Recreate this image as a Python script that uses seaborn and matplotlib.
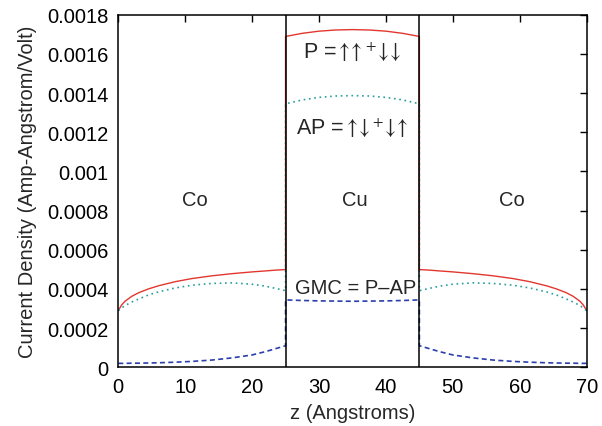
import matplotlib
matplotlib.use("Agg")
import matplotlib.pyplot as plt
import seaborn as sns

# Sample positions along z (Angstroms) for each layer
z_co_left = [0, 0.5, 1, 2, 3, 4.5, 6, 8.5, 11, 14, 17, 20, 22, 23.5, 25]
z_cu = [25, 27.5, 30, 32.5, 35, 37.5, 40, 42.5, 45]
z_co_right = [45, 46.5, 48, 50, 53, 56, 59, 61.5, 64, 65.5, 67, 68, 69, 69.5, 70]

# Parallel configuration current density
p_co_left = [0.000290, 0.000318, 0.000337, 0.000362, 0.000380, 0.000400, 0.000416, 0.000437,
             0.000453, 0.000467, 0.000478, 0.000487, 0.000492, 0.000496, 0.000499]
p_cu = [0.001689, 0.001705, 0.001716, 0.001722, 0.001724, 0.001722, 0.001716, 0.001705, 0.001689]
p_co_right = [0.000499, 0.000496, 0.000492, 0.000487, 0.000478, 0.000467, 0.000453, 0.000437,
              0.000416, 0.000400, 0.000380, 0.000362, 0.000337, 0.000318, 0.000290]

# Antiparallel configuration current density
ap_co_left = [0.000289, 0.000303, 0.000315, 0.000333, 0.000348, 0.000369, 0.000385, 0.000405,
              0.000419, 0.000428, 0.000431, 0.000424, 0.000414, 0.000403, 0.000391]
ap_cu = [0.001345, 0.001365, 0.001378, 0.001385, 0.001387, 0.001385, 0.001378, 0.001365, 0.001345]
ap_co_right = [0.000391, 0.000403, 0.000414, 0.000424, 0.000431, 0.000428, 0.000419, 0.000405,
               0.000385, 0.000369, 0.000348, 0.000333, 0.000315, 0.000303, 0.000289]

# Giant magnetoconductance (P - AP)
gmc_co_left = [0.000020, 0.000020, 0.000020, 0.000021, 0.000021, 0.000022, 0.000023, 0.000026,
               0.000030, 0.000037, 0.000048, 0.000063, 0.000080, 0.000095, 0.000110]
gmc_cu = [0.000344, 0.000341, 0.000339, 0.000338, 0.000337, 0.000338, 0.000339, 0.000341, 0.000344]
gmc_co_right = [0.000110, 0.000095, 0.000080, 0.000063, 0.000048, 0.000037, 0.000030, 0.000026,
                0.000023, 0.000022, 0.000021, 0.000021, 0.000020, 0.000020, 0.000020]

interfaces = [25, 45]
layer_names = ["Co", "Cu", "Co"]
layer_centers = [11.5, 35.4, 58.8]

x_ticks = [0, 10, 20, 30, 40, 50, 60, 70]
y_ticks = [0, 0.0002, 0.0004, 0.0006, 0.0008, 0.001, 0.0012, 0.0014, 0.0016, 0.0018]
y_tick_labels = ["0", "0.0002", "0.0004", "0.0006", "0.0008", "0.001",
                 "0.0012", "0.0014", "0.0016", "0.0018"]

sns.set_theme(style="white")
plt.rcParams["font.family"] = ["Liberation Sans", "DejaVu Sans"]
plt.rcParams["mathtext.fontset"] = "stix"

fig = plt.figure(figsize=(6.02, 4.27), dpi=100)
ax = fig.add_axes([0.1965, 0.1375, 0.778, 0.8257])

z_all = z_co_left + z_cu + z_co_right
series = [
    (p_co_left + p_cu + p_co_right, "#e2372e", "-", 1.0),
    (ap_co_left + ap_cu + ap_co_right, "#2a9e9e", (0, (1, 2.2)), 1.2),
    (gmc_co_left + gmc_cu + gmc_co_right, "#2a3fae", (0, (3, 2)), 1.2),
]
for vals, col, ls, lw in series:
    sns.lineplot(x=z_all, y=vals, ax=ax, estimator=None, sort=False,
                 color=col, linestyle=ls, linewidth=lw)

for zi in interfaces:
    ax.axvline(zi, color="black", linewidth=1.1, zorder=5)

ax.set_xlim(0, 70)
ax.set_ylim(0, 0.0018)
ax.set_xticks(x_ticks)
ax.set_xticklabels([str(t) for t in x_ticks])
ax.set_yticks(y_ticks)
ax.set_yticklabels(y_tick_labels)
ax.tick_params(direction="in", length=5, width=1, top=True, right=True,
               labelsize=14.5, colors="black", pad=7)
for sp in ax.spines.values():
    sp.set_color("black")
    sp.set_linewidth(1.1)

ax.set_xlabel("z (Angstroms)", fontsize=14.5, labelpad=5)
ax.set_ylabel("Current Density (Amp-Angstrom/Volt)", fontsize=14.5, labelpad=7)

for name, xc in zip(layer_names, layer_centers):
    ax.text(xc, 0.000857, name, ha="center", va="center", fontsize=14.5)

ax.text(35.0, 0.001612,
        r"P =$\uparrow\!\!\uparrow^{+}\!\downarrow\!\!\downarrow$",
        ha="center", va="center", fontsize=15.5)
ax.text(35.0, 0.001227,
        r"AP =$\uparrow\!\!\downarrow^{+}\!\downarrow\!\!\uparrow$",
        ha="center", va="center", fontsize=15.5)
ax.text(35.4, 0.000408, "GMC = P\u2013AP", ha="center", va="center", fontsize=14.5)

fig.savefig("out.png", dpi=100)
